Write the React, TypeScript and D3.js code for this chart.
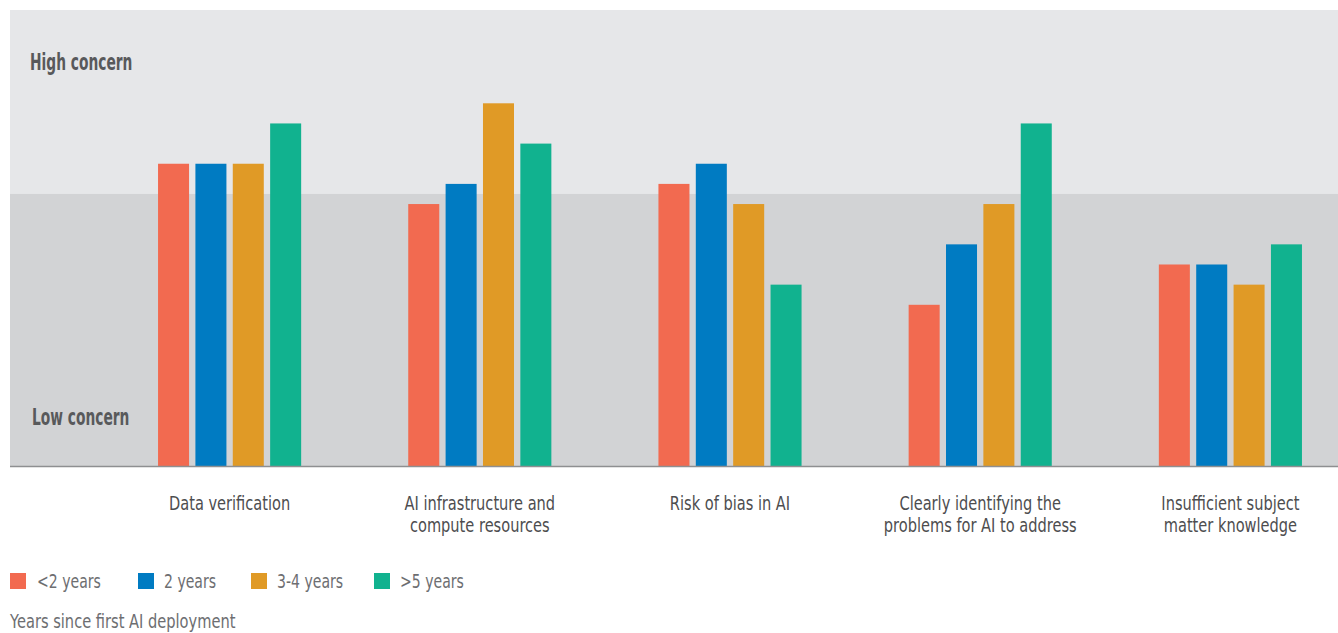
import React from "react";
import * as d3 from "d3";

const categories = [
  ["Data verification"],
  ["AI infrastructure and", "compute resources"],
  ["Risk of bias in AI"],
  ["Clearly identifying the", "problems for AI to address"],
  ["Insufficient subject", "matter knowledge"],
];
const seriesNames = ["<2 years", "2 years", "3-4 years", ">5 years"];
const seriesColors = ["#F26A50", "#007BC2", "#E09A26", "#11B28F"];
const lessThan2 = [15, 13, 14, 8, 10];
const twoYears = [15, 14, 15, 11, 10];
const threeFour = [15, 18, 13, 13, 9];
const overFive = [17, 16, 9, 17, 11];
const seriesValues = [lessThan2, twoYears, threeFour, overFive];
const concernLabels = ["High concern", "Low concern"];
const legendTitle = "Years since first AI deployment";
const highThreshold = 13.5;
const yMax = 22.63;

const W = 1338;
const H = 633;
const FONT = "'DejaVu Sans', sans-serif";

function CText(props: {
  x: number;
  y: number;
  sx: number;
  size: number;
  fill: string;
  anchor?: string;
  bold?: boolean;
  children: React.ReactNode;
}) {
  return (
    <g transform={`translate(${props.x},${props.y}) scale(${props.sx},1)`}>
      <text
        x={0}
        y={0}
        fontSize={props.size}
        fill={props.fill}
        textAnchor={props.anchor || "start"}
        fontWeight={props.bold ? "bold" : "normal"}
      >
        {props.children}
      </text>
    </g>
  );
}

export default function App() {
  const plotLeft = 10;
  const plotTop = 10;
  const baseY = 466;
  const y = d3.scaleLinear().domain([0, yMax]).range([baseY, plotTop]);
  const catIdx = categories.map((_, i) => String(i));
  const x0 = d3
    .scaleBand()
    .domain(catIdx)
    .range([104.5, 1355.5])
    .paddingInner(0.428)
    .paddingOuter(0.214);
  const x1 = d3
    .scaleBand()
    .domain(seriesNames)
    .range([0, x0.bandwidth()])
    .paddingInner(0.17)
    .paddingOuter(0);

  const legendX = [10, 138, 251, 374];
  const legendTextX = [37, 164, 277, 400];

  return (
    <svg
      width={W}
      height={H}
      style={{ position: "absolute", left: 0, top: 0, display: "block" }}
      fontFamily={FONT}
    >
      <rect x={plotLeft} y={plotTop} width={W - plotLeft} height={y(highThreshold) - plotTop} fill="#E6E7E9" />
      <rect x={plotLeft} y={y(highThreshold)} width={W - plotLeft} height={baseY - y(highThreshold)} fill="#D2D3D5" />
      <CText x={30} y={70} sx={0.6} size={23} bold fill="#58595B">
        {concernLabels[0]}
      </CText>
      <CText x={32} y={425} sx={0.6} size={23} bold fill="#58595B">
        {concernLabels[1]}
      </CText>
      {catIdx.map((c, ci) => (
        <g key={c} transform={`translate(${x0(c)},0)`}>
          {seriesNames.map((s, si) => (
            <rect
              key={s}
              x={x1(s)}
              y={y(seriesValues[si][ci])}
              width={x1.bandwidth()}
              height={baseY - y(seriesValues[si][ci])}
              fill={seriesColors[si]}
            />
          ))}
        </g>
      ))}
      <line x1={plotLeft} x2={W} y1={baseY + 0.5} y2={baseY + 0.5} stroke="#8E8F91" strokeWidth={1.5} />
      {categories.map((lines, ci) => (
        <g key={ci}>
          {lines.map((l, li) => (
            <CText
              key={li}
              x={(x0(String(ci)) as number) + x0.bandwidth() / 2}
              y={510 + li * 22}
              sx={0.73}
              size={20}
              fill="#4D4D4F"
              anchor="middle"
            >
              {l}
            </CText>
          ))}
        </g>
      ))}
      {seriesNames.map((s, si) => (
        <g key={s}>
          <rect x={legendX[si]} y={573} width={16} height={16} fill={seriesColors[si]} />
          <CText x={legendTextX[si]} y={588} sx={0.74} size={19} fill="#6D6E71">
            {s}
          </CText>
        </g>
      ))}
      <CText x={10} y={628} sx={0.77} size={19} fill="#6D6E71">
        {legendTitle}
      </CText>
    </svg>
  );
}
